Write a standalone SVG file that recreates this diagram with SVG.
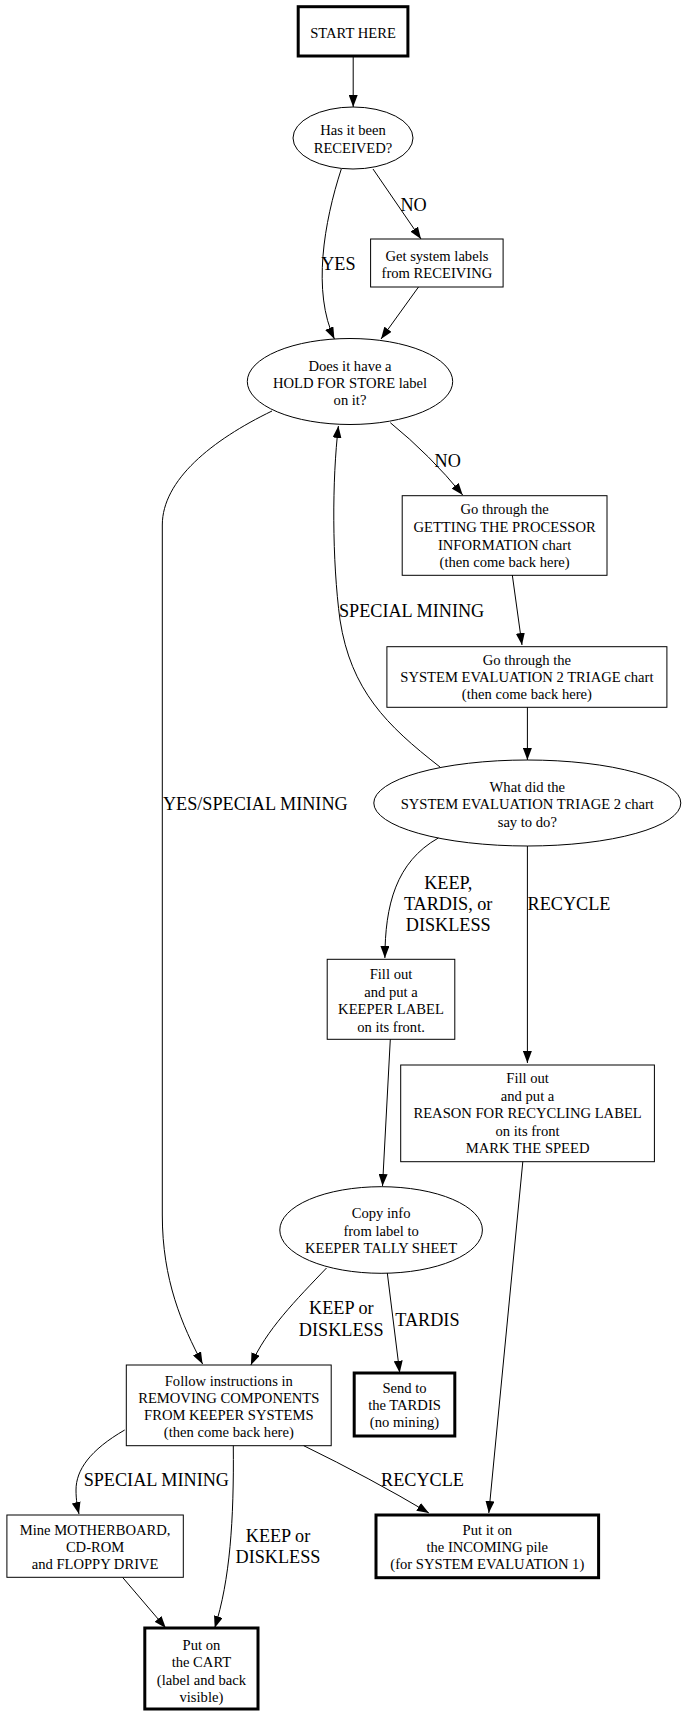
<svg xmlns="http://www.w3.org/2000/svg" width="688" height="1716" viewBox="0 0 688 1716">
<style>
.n{fill:none;stroke:#000;stroke-width:1}
.b{fill:none;stroke:#000;stroke-width:3}
.t{font-family:"Liberation Serif","Times New Roman",serif;font-size:14.6px;text-anchor:middle;fill:#000}
.l{font-family:"Liberation Serif","Times New Roman",serif;font-size:18.2px;text-anchor:middle;fill:#000}
.e{fill:none;stroke:#000;stroke-width:1;marker-end:url(#ah)}
</style>
<defs>
<marker id="ah" viewBox="0 0 12 9" refX="12" refY="4.5" markerWidth="12" markerHeight="9" markerUnits="userSpaceOnUse" orient="auto">
<path d="M0,0 L12,4.5 L0,9 z" fill="#000"/>
</marker>
</defs>
<rect width="688" height="1716" fill="#fff"/>
<g id="connectors">
<path class="e" d="M353.2,56 L353.2,107"/>
<path class="e" d="M373,169 L421,239"/>
<path class="e" d="M341.3,169 C324,222 312,292 334.4,339"/>
<path class="e" d="M418.5,287 L381,339"/>
<path class="e" d="M390.3,422.7 Q430,455 462.7,495"/>
<path class="e" d="M272,411 C212,440 162.3,480 162.3,525 L162.3,1215 C162.3,1280 182,1325 202.6,1364"/>
<path class="e" d="M440,767 C386,725 351,690 340,620 C332,560 332,480 338.4,426"/>
<path class="e" d="M512.3,575 L522,645"/>
<path class="e" d="M527.4,707.3 L527.4,760"/>
<path class="e" d="M438.3,838 C396,862 385,905 384.9,958"/>
<path class="e" d="M527.4,846 L527.4,1063"/>
<path class="e" d="M390.3,1039.3 L382.5,1186"/>
<path class="e" d="M522.8,1161.7 L488.8,1513"/>
<path class="e" d="M326.5,1268 C296,1300 266,1330 250.9,1365"/>
<path class="e" d="M387.3,1273 L399.7,1372.7"/>
<path class="e" d="M124.7,1430 C90,1450 76,1470 76,1490 C76,1500 77.5,1508 79,1514"/>
<path class="e" d="M233.3,1445.7 C234,1520 230,1580 214.7,1628"/>
<path class="e" d="M303.7,1445.7 Q370,1478 428.9,1513"/>
<path class="e" d="M122.7,1577.5 L165.8,1628"/>
<text class="l" x="413.6" y="211">NO</text>
<text class="l" x="338.4" y="270">YES</text>
<text class="l" x="447.7" y="467">NO</text>
<text class="l" x="411.6" y="617">SPECIAL MINING</text>
<text class="l" x="255.3" y="810">YES/SPECIAL MINING</text>
<text class="l" x="448.2" y="889">KEEP,</text>
<text class="l" x="448.2" y="910">TARDIS, or</text>
<text class="l" x="448.2" y="931">DISKLESS</text>
<text class="l" x="569" y="910">RECYCLE</text>
<text class="l" x="341.3" y="1314">KEEP or</text>
<text class="l" x="341.3" y="1336">DISKLESS</text>
<text class="l" x="427.4" y="1326">TARDIS</text>
<text class="l" x="156.3" y="1486">SPECIAL MINING</text>
<text class="l" x="422.5" y="1486">RECYCLE</text>
<text class="l" x="278" y="1542">KEEP or</text>
<text class="l" x="278" y="1563">DISKLESS</text>
</g>
<g id="start">
<rect class="b" x="298.2" y="6.7" width="109.7" height="49.3"/>
<text class="t" x="353" y="37.5">START HERE</text>
</g>
<g id="received">
<ellipse class="n" cx="353" cy="138" rx="60" ry="31"/>
<text class="t" x="353" y="134.5">Has it been</text>
<text class="t" x="353" y="152.5">RECEIVED?</text>
</g>
<g id="getlabels">
<rect class="n" x="370.6" y="239" width="132.5" height="48"/>
<text class="t" x="436.9" y="261">Get system labels</text>
<text class="t" x="436.9" y="278">from RECEIVING</text>
</g>
<g id="holdforstore">
<ellipse class="n" cx="350" cy="381.5" rx="102.7" ry="43"/>
<text class="t" x="350" y="370.5">Does it have a</text>
<text class="t" x="350" y="387.5">HOLD FOR STORE label</text>
<text class="t" x="350" y="404.5">on it?</text>
</g>
<g id="processor">
<rect class="n" x="402.2" y="495.7" width="204.8" height="79.6"/>
<text class="t" x="504.6" y="514">Go through the</text>
<text class="t" x="504.6" y="532">GETTING THE PROCESSOR</text>
<text class="t" x="504.6" y="549.5">INFORMATION chart</text>
<text class="t" x="504.6" y="567">(then come back here)</text>
</g>
<g id="triagechart">
<rect class="n" x="386.9" y="646.7" width="280" height="60.6"/>
<text class="t" x="526.9" y="664.5">Go through the</text>
<text class="t" x="526.9" y="682">SYSTEM EVALUATION 2 TRIAGE chart</text>
<text class="t" x="526.9" y="699">(then come back here)</text>
</g>
<g id="triagesay">
<ellipse class="n" cx="527.3" cy="803" rx="153.5" ry="43"/>
<text class="t" x="527.3" y="791.5">What did the</text>
<text class="t" x="527.3" y="809">SYSTEM EVALUATION TRIAGE 2 chart</text>
<text class="t" x="527.3" y="826.5">say to do?</text>
</g>
<g id="keeperlabel">
<rect class="n" x="327.2" y="959.3" width="127.6" height="80"/>
<text class="t" x="391" y="979">Fill out</text>
<text class="t" x="391" y="996.5">and put a</text>
<text class="t" x="391" y="1014">KEEPER LABEL</text>
<text class="t" x="391" y="1031.5">on its front.</text>
</g>
<g id="recyclelabel">
<rect class="n" x="400.7" y="1065" width="253.7" height="96.7"/>
<text class="t" x="527.6" y="1083">Fill out</text>
<text class="t" x="527.6" y="1100.5">and put a</text>
<text class="t" x="527.6" y="1118">REASON FOR RECYCLING LABEL</text>
<text class="t" x="527.6" y="1135.5">on its front</text>
<text class="t" x="527.6" y="1153">MARK THE SPEED</text>
</g>
<g id="tally">
<ellipse class="n" cx="381.1" cy="1230" rx="101.3" ry="43.3"/>
<text class="t" x="381.1" y="1218">Copy info</text>
<text class="t" x="381.1" y="1235.5">from label to</text>
<text class="t" x="381.1" y="1253">KEEPER TALLY SHEET</text>
</g>
<g id="removing">
<rect class="n" x="126.3" y="1365" width="204.9" height="80.7"/>
<text class="t" x="228.8" y="1386">Follow instructions in</text>
<text class="t" x="228.8" y="1402.5">REMOVING COMPONENTS</text>
<text class="t" x="228.8" y="1419.5">FROM KEEPER SYSTEMS</text>
<text class="t" x="228.8" y="1436.5">(then come back here)</text>
</g>
<g id="tardis">
<rect class="b" x="354.2" y="1373" width="100.6" height="63"/>
<text class="t" x="404.5" y="1393">Send to</text>
<text class="t" x="404.5" y="1410">the TARDIS</text>
<text class="t" x="404.5" y="1427">(no mining)</text>
</g>
<g id="mine">
<rect class="n" x="6.9" y="1515" width="176.4" height="62.3"/>
<text class="t" x="95.1" y="1534.5">Mine MOTHERBOARD,</text>
<text class="t" x="95.1" y="1552">CD-ROM</text>
<text class="t" x="95.1" y="1569">and FLOPPY DRIVE</text>
</g>
<g id="incoming">
<rect class="b" x="376" y="1515" width="222.6" height="62.7"/>
<text class="t" x="487.3" y="1534.5">Put it on</text>
<text class="t" x="487.3" y="1552">the INCOMING pile</text>
<text class="t" x="487.3" y="1569">(for SYSTEM EVALUATION 1)</text>
</g>
<g id="cart">
<rect class="b" x="144.8" y="1628" width="113.2" height="81"/>
<text class="t" x="201.4" y="1649.5">Put on</text>
<text class="t" x="201.4" y="1667">the CART</text>
<text class="t" x="201.4" y="1684.5">(label and back</text>
<text class="t" x="201.4" y="1702">visible)</text>
</g>
</svg>
